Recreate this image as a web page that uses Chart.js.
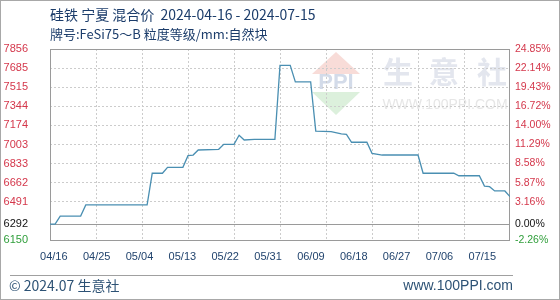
<!DOCTYPE html>
<html>
<head>
<meta charset="utf-8">
<title>硅铁 宁夏 混合价</title>
<script src="https://cdn.jsdelivr.net/npm/chart.js@4.4.1/dist/chart.umd.min.js"></script>
<style>
  html, body { margin: 0; padding: 0; background: #fff; }
  #priceChart { display: block; }
</style>
</head>
<body>
<canvas id="priceChart" width="560" height="300"></canvas>
<script>
// values, day 0 = 04/16
var days   = [0, 1, 2, 6, 7, 19, 20, 22, 23, 26, 27, 28, 29, 33, 34, 36, 37, 38, 40, 44, 45, 47, 48, 51, 52, 55, 57, 58, 59, 62, 63, 65, 72, 73, 79, 80, 84, 85, 86, 87, 89, 90];
var prices = [6292, 6292, 6364, 6364, 6463, 6463, 6746, 6746, 6799, 6799, 6903, 6909, 6954, 6960, 7005, 7005, 7086, 7043, 7049, 7049, 7710, 7710, 7562, 7562, 7123, 7118, 7097, 7094, 7023, 7023, 6924, 6909, 6909, 6746, 6746, 6724, 6724, 6632, 6626, 6588, 6588, 6537];

var xLabels    = ['04/16', '04/25', '05/04', '05/13', '05/22', '05/31', '06/09', '06/18', '06/27', '07/06', '07/15'];
var xLabelDays = [0, 9, 18, 27, 36, 45, 54, 63, 72, 81, 90];

var leftTicks   = [6150, 6292, 6491, 6662, 6833, 7003, 7174, 7344, 7515, 7685, 7856];
var rightLabels = ['-2.26%', '0.00%', '3.16%', '5.87%', '8.58%', '11.29%', '14.00%', '16.72%', '19.43%', '22.14%', '24.85%'];
var baseValue = 6292;

var titleLines = ['硅铁 宁夏 混合价  2024-04-16 - 2024-07-15', '牌号:FeSi75～B 粒度等级/mm:自然块'];

/*---------------------------------------------------
  helpers
---------------------------------------------------*/

function tickColor(ctx) {
    var v = ctx.tick.value;
    if (v > baseValue) return '#d4374b';
    if (v < baseValue) return '#2f9e3a';
    return '#111111';
}

function yGridColor(ctx) {
    var v = ctx.tick ? ctx.tick.value : null;
    if (v === baseValue || v === leftTicks[0] || v === leftTicks[leftTicks.length - 1]) return 'rgba(0,0,0,0)';
    return '#cccccc';
}

function setTicks(scale) {
    scale.ticks = leftTicks.map(function (v) { return { value: v }; });
}

var points = days.map(function (d, i) { return { x: d, y: prices[i] }; });

/*---------------------------------------------------
  frame, titles, watermark
---------------------------------------------------*/

var decorPlugin = {
    id: 'decor',
    beforeDraw: function (chart) {
        var c = chart.ctx;
        var w = chart.width, h = chart.height;
        c.save();
        c.fillStyle = '#ffffff';
        c.fillRect(0, 0, w, h);

        // outer frame
        c.strokeStyle = '#a8a8a8';
        c.lineWidth = 1;
        c.strokeRect(0.5, 0.5, w - 1, h - 1);

        // title
        c.fillStyle = '#1c3d6b';
        c.textBaseline = 'middle';
        c.textAlign = 'left';
        c.font = '14px "Noto Sans CJK SC", sans-serif';
        c.fillText(titleLines[0], 50, 15);
        c.font = '13px "Noto Sans CJK SC", sans-serif';
        c.fillText(titleLines[1], 50, 34);

        // footer
        c.strokeStyle = '#a0a0a0';
        c.beginPath();
        c.moveTo(10, 275.5);
        c.lineTo(513, 275.5);
        c.stroke();
        c.fillStyle = '#2d5275';
        c.font = '14px "Noto Sans CJK SC", sans-serif';
        c.fillText('© 2024.07 生意社', 9, 286);
        c.textAlign = 'right';
        c.font = '14px "Liberation Sans", sans-serif';
        c.fillText('www.100PPI.com', 513, 286);

        // watermark logo
        c.fillStyle = '#f8dcd8';
        c.beginPath();
        c.moveTo(336, 52); c.lineTo(360, 74); c.lineTo(312, 74); c.closePath();
        c.fill();
        c.fillStyle = '#dcf0dc';
        c.beginPath();
        c.moveTo(312, 92); c.lineTo(360, 92); c.lineTo(336, 115); c.closePath();
        c.fill();
        c.fillStyle = '#d3dbe9';
        c.textAlign = 'center';
        c.font = 'bold 22px "Liberation Sans", sans-serif';
        c.fillText('PPI', 336, 83);

        c.fillStyle = '#e3e6ee';
        c.font = 'bold 30px "Noto Sans CJK SC", sans-serif';
        c.fillText('生', 398, 72);
        c.fillText('意', 444, 72);
        c.fillText('社', 492, 72);
        c.fillStyle = '#e6e6e6';
        c.font = '14px "Liberation Sans", sans-serif';
        c.fillText('WWW.100PPI.COM', 445, 105);
        c.restore();
    },
    beforeDatasetsDraw: function (chart) {
        var c = chart.ctx;
        var a = chart.chartArea;
        var yb = Math.round(chart.scales.y.getPixelForValue(baseValue)) + 0.5;
        c.save();
        c.strokeStyle = '#9a9a9a';
        c.lineWidth = 1;
        c.beginPath();
        c.moveTo(a.left, yb);
        c.lineTo(a.right, yb);
        c.stroke();
        c.strokeRect(a.left + 0.5, a.top + 0.5, a.right - a.left - 1, a.bottom - a.top);
        c.restore();
    }
};

/*---------------------------------------------------
  chart
---------------------------------------------------*/

var ctx = document.getElementById('priceChart');

var priceChart = new Chart(ctx, {
    type: 'line',
    plugins: [decorPlugin],
    data: {
        datasets: [{
            label: '硅铁 宁夏 混合价',
            data: points,
            borderColor: '#4a8fb2',
            borderWidth: 1.3,
            pointRadius: 0,
            tension: 0,
            fill: false,
            xAxisID: 'x',
            yAxisID: 'y'
        }]
    },
    options: {
        responsive: false,
        animation: false,
        devicePixelRatio: 1,
        layout: { padding: { top: 49, left: 0, right: 0, bottom: 0 } },
        plugins: {
            legend: { display: false },
            tooltip: { enabled: false }
        },
        scales: {
            x: {
                type: 'linear',
                position: 'bottom',
                min: 0,
                max: 90,
                afterFit: function (scale) { scale.height = 0; },
                ticks: { display: false, stepSize: 9 },
                grid: {
                    drawTicks: false,
                    color: function (c) {
                        var v = c.tick ? c.tick.value : null;
                        return (v === 0 || v === 90) ? 'rgba(0,0,0,0)' : '#cccccc';
                    }
                },
                border: { display: false, dash: [2, 2] }
            },
            xl: {
                type: 'linear',
                position: 'bottom',
                min: -0.8,
                max: 95.82,
                afterBuildTicks: function (scale) {
                    scale.ticks = xLabelDays.map(function (v) { return { value: v }; });
                },
                afterFit: function (scale) { scale.height = 60; },
                grid: { display: false, drawTicks: false },
                border: { display: false },
                ticks: {
                    autoSkip: false,
                    maxRotation: 0,
                    padding: 10,
                    color: '#22446e',
                    font: { family: 'Liberation Sans', size: 11 },
                    callback: function (value, index) { return xLabels[index]; }
                }
            },
            y: {
                type: 'linear',
                position: 'left',
                min: leftTicks[0],
                max: leftTicks[leftTicks.length - 1],
                afterBuildTicks: setTicks,
                afterFit: function (scale) { scale.width = 50; },
                grid: { drawTicks: false, color: yGridColor },
                border: { display: false, dash: [2, 2] },
                ticks: {
                    padding: 22,
                    color: tickColor,
                    font: { family: 'Liberation Sans', size: 11 },
                    callback: function (value) { return String(value); }
                }
            },
            y2: {
                type: 'linear',
                position: 'right',
                min: leftTicks[0],
                max: leftTicks[leftTicks.length - 1],
                afterBuildTicks: setTicks,
                afterFit: function (scale) { scale.width = 50; },
                grid: { display: false, drawTicks: false },
                border: { display: false },
                ticks: {
                    padding: 5,
                    color: tickColor,
                    font: { family: 'Liberation Sans', size: 10.5 },
                    callback: function (value, index) { return rightLabels[index]; }
                }
            }
        }
    }
});
</script>
</body>
</html>
